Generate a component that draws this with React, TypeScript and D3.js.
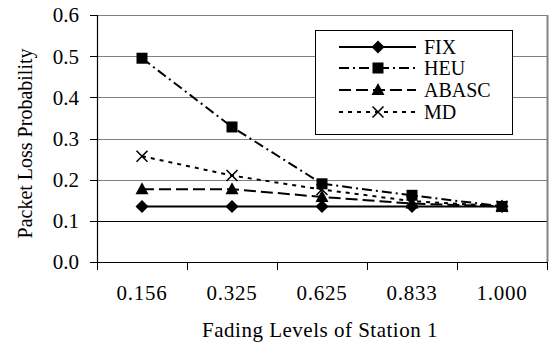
import React from "react";
import * as d3 from "d3";

const categories = ["0.156", "0.325", "0.625", "0.833", "1.000"];
const yTicks = [0, 0.1, 0.2, 0.3, 0.4, 0.5, 0.6];
const fixValues = [0.135, 0.135, 0.135, 0.135, 0.135];
const heuValues = [0.495, 0.328, 0.19, 0.162, 0.135];
const abascValues = [0.177, 0.177, 0.158, 0.142, 0.135];
const mdValues = [0.257, 0.21, 0.176, 0.148, 0.135];
const seriesNames = ["FIX", "HEU", "ABASC", "MD"];

const W = 550, H = 349;
const left = 97, right = 547, top = 15, bottom = 262;
const font = "'Liberation Serif', 'Times New Roman', serif";

const dashes: Record<string, string | undefined> = {
  FIX: undefined,
  HEU: "10,4,2,4",
  ABASC: "12,5",
  MD: "4,5",
};

function Marker({ name, x, y }: { name: string; x: number; y: number }) {
  if (name === "FIX") {
    const s = 6.5;
    return <path d={`M${x},${y - s}L${x + s},${y}L${x},${y + s}L${x - s},${y}Z`} fill="#000" />;
  }
  if (name === "HEU") {
    const s = 5.5;
    return <rect x={x - s} y={y - s} width={2 * s} height={2 * s} fill="#000" />;
  }
  if (name === "ABASC") {
    return <path d={`M${x},${y - 7}L${x + 6.5},${y + 5}L${x - 6.5},${y + 5}Z`} fill="#000" />;
  }
  const s = 5.5;
  return (
    <path d={`M${x - s},${y - s}L${x + s},${y + s}M${x + s},${y - s}L${x - s},${y + s}`} stroke="#000" strokeWidth={1.6} fill="none" />
  );
}

export default function App() {
  const x = d3.scaleBand<string>().domain(categories).range([left, right]);
  const y = d3.scaleLinear().domain([0, 0.6]).range([bottom, top]);
  const data: Record<string, number[]> = {
    FIX: fixValues,
    HEU: heuValues,
    ABASC: abascValues,
    MD: mdValues,
  };
  const line = d3
    .line<number>()
    .x((_, i) => (x(categories[i]) as number) + x.bandwidth() / 2)
    .y((v) => y(v));
  const drawOrder = ["MD", "ABASC", "HEU", "FIX"];
  const legendX = 315, legendY = 30, legendW = 197, legendH = 104;
  const rowY = [47, 68, 90, 112];

  return (
    <svg width={W} height={H} style={{ position: "absolute", left: 0, top: 0, background: "#fff" }} fontFamily={font}>
      <rect x={0} y={0} width={W} height={H} fill="#fff" />
      {yTicks.slice(1).map((t) => (
        <line key={t} x1={left} x2={right} y1={Math.round(y(t)) + 0.5} y2={Math.round(y(t)) + 0.5} stroke={t === 0.1 ? "#000" : "#808080"} strokeWidth={1} />
      ))}
      <line x1={right + 0.5} x2={right + 0.5} y1={top} y2={bottom} stroke="#808080" strokeWidth={2} />
      {/* axes */}
      <line x1={left + 0.5} x2={left + 0.5} y1={top} y2={bottom} stroke="#000" strokeWidth={1.2} />
      <line x1={left} x2={right} y1={bottom + 0.5} y2={bottom + 0.5} stroke="#000" strokeWidth={1.2} />
      {yTicks.map((t) => (
        <g key={t}>
          <line x1={left - 7} x2={left} y1={Math.round(y(t)) + 0.5} y2={Math.round(y(t)) + 0.5} stroke="#000" />
          <text x={79} y={y(t)} dy="0.35em" textAnchor="end" fontSize={21}>
            {t.toFixed(1)}
          </text>
        </g>
      ))}
      {[...categories.map((c) => x(c) as number), right].map((px, i) => (
        <line key={i} x1={px + 0.5} x2={px + 0.5} y1={bottom} y2={bottom + 8} stroke="#000" />
      ))}
      {categories.map((c) => (
        <text key={c} x={(x(c) as number) + x.bandwidth() / 2} y={293} dy="0.35em" textAnchor="middle" fontSize={21} letterSpacing={0.8}>
          {c}
        </text>
      ))}
      <text x={(left + right) / 2 - 2} y={330} dy="0.35em" textAnchor="middle" fontSize={21} letterSpacing={0.5}>
        Fading Levels of Station 1
      </text>
      <text transform={`translate(25,${(top + bottom) / 2 + 5}) rotate(-90)`} dy="0.35em" textAnchor="middle" fontSize={20}>
        Packet Loss Probability
      </text>
      {/* series */}
      {drawOrder.map((n) => (
        <g key={n}>
          <path d={line(data[n]) as string} fill="none" stroke="#000" strokeWidth={2} strokeDasharray={dashes[n]} />
          {data[n].map((v, i) => (
            <Marker key={i} name={n} x={(x(categories[i]) as number) + x.bandwidth() / 2} y={y(v)} />
          ))}
        </g>
      ))}
      {/* legend */}
      <rect x={legendX + 0.5} y={legendY + 0.5} width={legendW} height={legendH} fill="#fff" stroke="#000" strokeWidth={1} />
      {seriesNames.map((n, i) => (
        <g key={n}>
          <line x1={339} x2={416} y1={rowY[i]} y2={rowY[i]} stroke="#000" strokeWidth={2} strokeDasharray={dashes[n]} />
          <Marker name={n} x={378} y={rowY[i]} />
          <text x={424} y={rowY[i]} dy="0.35em" fontSize={20}>
            {n}
          </text>
        </g>
      ))}
    </svg>
  );
}
